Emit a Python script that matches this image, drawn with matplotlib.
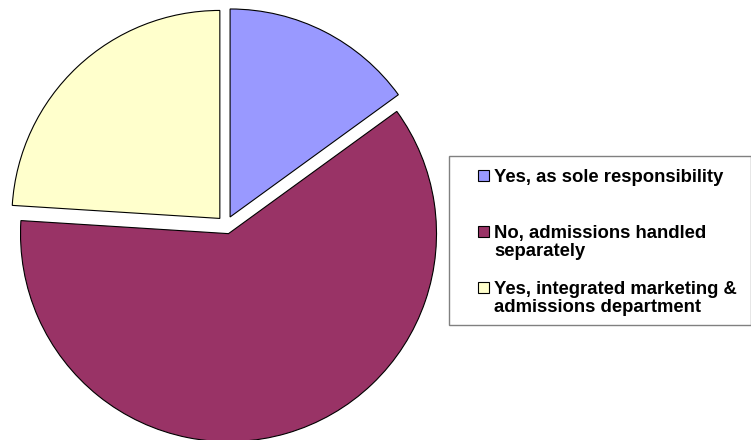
import matplotlib.pyplot as plt
from matplotlib.patches import Rectangle

# survey shares, clockwise from 12 o'clock
labels = ["Yes, as sole responsibility",
          "No, admissions handled\nseparately",
          "Yes, integrated marketing &\nadmissions department"]
shares = [15, 61, 24]
colors = ["#9999FF", "#993366", "#FFFFCC"]

W, H = 751, 440
fig = plt.figure(figsize=(W / 100, H / 100), dpi=100)
ax = fig.add_axes([0, 0, 1, 1])

# axes in pixel units, y pointing up
cx, cy = 226, H - 225
ax.pie(shares, colors=colors, startangle=90, counterclock=False,
       radius=208, center=(cx, cy), explode=[9] * len(shares),
       wedgeprops=dict(edgecolor="black", linewidth=0.8))
ax.set_xlim(0, W)
ax.set_ylim(0, H)
ax.set_aspect("equal")
ax.axis("off")

# legend box drawn by hand
ax.add_patch(Rectangle((449, H - 325), 302, 169, facecolor="white",
                       edgecolor="#808080", linewidth=1.0, clip_on=False))
baselines = [181.5, 238, 294]
for lab, col, yb in zip(labels, colors, baselines):
    ax.add_patch(Rectangle((478, H - yb + 1), 11, 11, facecolor=col,
                           edgecolor="black", linewidth=0.8))
    for i, line in enumerate(lab.split("\n")):
        ax.text(494, H - yb - i * 18, line, fontsize=13.3, fontweight="bold",
                family="Liberation Sans", va="baseline", ha="left")

fig.savefig("out.png", dpi=100)
